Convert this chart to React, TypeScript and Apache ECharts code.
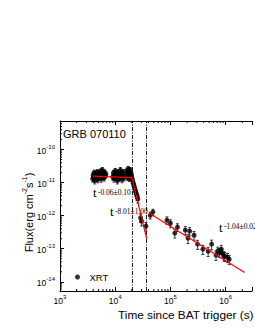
import React, { useEffect, useRef } from 'react';
import * as echarts from 'echarts';

// ---- data (time [s], flux [erg cm^-2 s^-1], 1-sigma error) ----
const plateau1: number[][] = [
  [3900, 1.3e-11, 2.6e-12], [3980, 1.7e-11, 3.2e-12], [4060, 1.45e-11, 3.0e-12],
  [4150, 2.0e-11, 3.8e-12], [4250, 1.15e-11, 2.4e-12], [4350, 1.6e-11, 3.2e-12],
  [4450, 1.85e-11, 3.6e-12], [4550, 1.35e-11, 2.8e-12], [4650, 1.55e-11, 3.0e-12],
  [4750, 2.1e-11, 4.0e-12], [4850, 1.25e-11, 2.6e-12], [4950, 1.7e-11, 3.3e-12],
  [5080, 1.45e-11, 3.0e-12], [5200, 1.9e-11, 3.7e-12], [5320, 1.6e-11, 3.2e-12],
  [5450, 2.2e-11, 4.2e-12], [5560, 1.3e-11, 2.7e-12], [5700, 1.75e-11, 3.4e-12],
  [5850, 2.4e-11, 4.6e-12], [6000, 1.5e-11, 3.0e-12], [6150, 1.9e-11, 3.7e-12],
  [6300, 1.4e-11, 2.9e-12], [6450, 2.05e-11, 4.0e-12], [6600, 1.65e-11, 3.3e-12],
  [6800, 1.8e-11, 3.5e-12],
];
const plateau2: number[][] = [
  [9000, 1.5e-11, 3.0e-12], [9250, 1.95e-11, 3.8e-12], [9500, 1.3e-11, 2.7e-12],
  [9750, 1.7e-11, 3.3e-12], [10000, 2.25e-11, 4.3e-12], [10300, 1.45e-11, 2.9e-12],
  [10600, 1.8e-11, 3.5e-12], [10900, 1.15e-11, 2.4e-12], [11200, 2.05e-11, 4.0e-12],
  [11500, 1.6e-11, 3.2e-12], [11800, 1.35e-11, 2.8e-12], [12100, 1.75e-11, 3.4e-12],
  [12400, 2.4e-11, 4.6e-12], [12700, 1.5e-11, 3.0e-12], [13000, 1.9e-11, 3.7e-12],
  [13300, 1.25e-11, 2.6e-12], [13700, 1.65e-11, 3.3e-12], [14100, 2.1e-11, 4.0e-12],
  [14400, 1.4e-11, 2.8e-12],
];
const plateau3: number[][] = [
  [16000, 1.75e-11, 3.4e-12], [16300, 2.3e-11, 4.4e-12], [16600, 1.45e-11, 2.9e-12],
  [16900, 1.95e-11, 3.8e-12], [17200, 2.6e-11, 5.0e-12], [17500, 1.6e-11, 3.2e-12],
  [17800, 2.1e-11, 4.0e-12], [18100, 1.35e-11, 2.7e-12], [18400, 1.85e-11, 3.6e-12],
  [18700, 2.4e-11, 4.6e-12], [19000, 1.5e-11, 3.0e-12], [19300, 2.0e-11, 3.9e-12],
  [19700, 1.7e-11, 3.3e-12], [20100, 1.4e-11, 2.8e-12],
];
const descent: number[][] = [
  [20600, 1.2e-11, 2.4e-12], [21000, 1.0e-11, 2.1e-12], [21500, 9.0e-12, 1.9e-12],
  [22000, 7.8e-12, 1.7e-12], [22600, 6.6e-12, 1.5e-12], [23200, 5.8e-12, 1.3e-12],
  [23800, 5.0e-12, 1.1e-12], [24400, 4.3e-12, 1.0e-12], [25000, 3.8e-12, 9e-13],
  [25700, 3.2e-12, 8e-13], [28800, 8.5e-13, 2.2e-13], [30000, 6.8e-13, 1.9e-13],
  [36000, 4.8e-13, 1.4e-13],
];
const tail: number[][] = [
  [43100, 1.03e-12, 2.4e-13], [48200, 1.28e-12, 2.8e-13], [86500, 7.3e-13, 1.9e-13],
  [100000, 5.9e-13, 1.6e-13], [120000, 2.95e-13, 8.5e-14], [134000, 4.5e-13, 1.2e-13],
  [186000, 3.64e-13, 1.0e-13], [208000, 2.08e-13, 6.5e-14], [223000, 3.4e-13, 9.5e-14],
  [268000, 2.56e-13, 7.5e-14], [310000, 1.37e-13, 4.2e-14], [386000, 9.7e-14, 3.0e-14],
  [482000, 8.4e-14, 2.6e-14], [557000, 1.37e-13, 4.5e-14], [669000, 6.4e-14, 2.0e-14],
  [720000, 8.6e-14, 2.6e-14], [774000, 7.8e-14, 2.4e-14], [833000, 9.7e-14, 3.0e-14],
  [865000, 7.3e-14, 2.2e-14], [930000, 6.2e-14, 1.9e-14], [964000, 5.9e-14, 1.8e-14],
  [1080000, 5.5e-14, 1.7e-14], [1160000, 4.8e-14, 1.5e-14],
];

// broken power-law fit
const fitEarly: number[][] = [[3900, 1.57e-11], [20000, 1.42e-11], [37200, 2.0e-13]];
const fitLate: number[][] = [[41600, 1.19e-12], [2200000, 1.9e-14]];
const breakTimes = [20000, 37200];

const fitLabels = [
  { base: 't', sup: '-0.06±0.10' },
  { base: 't', sup: '-8.01±1.00' },
  { base: 't', sup: '-1.04±0.02' },
];

const X_MIN = 1000;
const X_MAX = 3e6;
const Y_MIN = 5.26e-15;
const Y_MAX = 7.31e-10;

const allPoints = [...plateau1, ...plateau2, ...plateau3, ...descent, ...tail];

const xMinorTicks: number[] = [];
for (let e = 3; e <= 6; e++) for (let m = 2; m <= 9; m++) { const v = m * Math.pow(10, e); if (v < X_MAX) xMinorTicks.push(v); }
const yMinorTicks: number[] = [];
for (let e = -15; e <= -10; e++) for (let m = 2; m <= 9; m++) { const v = m * Math.pow(10, e); if (v > Y_MIN && v < Y_MAX) yMinorTicks.push(v); }

const SANS = 'Liberation Sans';
const SERIF = 'Liberation Serif';

const decadeFmt = (v: number) => {
  const l = Math.log10(v);
  if (Math.abs(l - Math.round(l)) > 1e-6) return '';
  return '{b|10}{s|' + Math.round(l) + '}';
};
const labelRich = {
  b: { fontSize: 8.5, fontFamily: SANS, color: '#000', lineHeight: 11, verticalAlign: 'bottom' },
  s: { fontSize: 6, fontFamily: SANS, color: '#000', lineHeight: 11, verticalAlign: 'top' },
};

const axisLine = { show: true, lineStyle: { color: '#000', width: 1 } };
const axisTick = { show: true, inside: true, length: 4, lineStyle: { color: '#000', width: 1 } };

export default function App() {
  const ref = useRef<HTMLDivElement>(null);
  useEffect(() => {
    const chart = echarts.init(ref.current!, undefined, { renderer: 'svg' });
    const option: any = {
      animation: false,
      backgroundColor: '#fff',
      grid: { left: 60, top: 121, width: 220, height: 170 },
      xAxis: [
        {
          type: 'log', min: X_MIN, max: X_MAX, position: 'bottom',
          axisLine, axisTick,
          axisLabel: { formatter: decadeFmt, rich: labelRich, margin: 3 },
          splitLine: { show: false },
        },
        {
          type: 'log', min: X_MIN, max: X_MAX, position: 'top',
          axisLine, axisTick, axisLabel: { show: false }, splitLine: { show: false },
        },
      ],
      yAxis: {
        type: 'log', min: Y_MIN, max: Y_MAX,
        axisLine, axisTick,
        axisLabel: { formatter: decadeFmt, rich: labelRich, margin: 5 },
        splitLine: { show: false },
      },
      legend: {
        data: ['XRT'], left: 70, top: 267, icon: 'circle', itemWidth: 14, itemHeight: 5,
        selectedMode: false,
        textStyle: { fontSize: 9.5, fontFamily: SANS, color: '#000' },
      },
      series: [
        {
          type: 'custom', name: 'xminor', data: xMinorTicks.map((t) => [t, 1e-12]), z: 1, silent: true,
          renderItem: (params: any, api: any) => {
            const cs = params.coordSys;
            const x = api.coord([api.value(0), api.value(1)])[0];
            const st = { stroke: '#000', lineWidth: 1 };
            return {
              type: 'group', children: [
                { type: 'line', shape: { x1: x, y1: cs.y + cs.height, x2: x, y2: cs.y + cs.height - 2 }, style: st },
                { type: 'line', shape: { x1: x, y1: cs.y, x2: x, y2: cs.y + 2 }, style: st },
              ],
            };
          },
        },
        {
          type: 'custom', name: 'yminor', data: yMinorTicks.map((f) => [10000, f]), z: 1, silent: true,
          renderItem: (params: any, api: any) => {
            const cs = params.coordSys;
            const y = api.coord([api.value(0), api.value(1)])[1];
            return { type: 'line', shape: { x1: cs.x, y1: y, x2: cs.x + 2, y2: y }, style: { stroke: '#000', lineWidth: 1 } };
          },
        },
        {
          type: 'custom', name: 'err', data: allPoints, z: 2, silent: true,
          renderItem: (params: any, api: any) => {
            const t = api.value(0), f = api.value(1), e = api.value(2);
            const top = api.coord([t, f + e]);
            const bot = api.coord([t, f - e]);
            const cw = 1.5;
            const st = { stroke: '#111', lineWidth: 0.8 };
            return {
              type: 'group', children: [
                { type: 'line', shape: { x1: top[0], y1: top[1], x2: bot[0], y2: bot[1] }, style: st },
                { type: 'line', shape: { x1: top[0] - cw, y1: top[1], x2: top[0] + cw, y2: top[1] }, style: st },
                { type: 'line', shape: { x1: bot[0] - cw, y1: bot[1], x2: bot[0] + cw, y2: bot[1] }, style: st },
              ],
            };
          },
        },
        {
          name: 'XRT', type: 'scatter', data: allPoints.map((p) => [p[0], p[1]]),
          symbol: 'circle', symbolSize: 5, itemStyle: { color: '#000' }, z: 3,
        },
        {
          type: 'line', name: 'fit1', data: fitEarly, symbol: 'none', z: 5, silent: true,
          lineStyle: { color: '#ff0000', width: 1.2 },
          markLine: {
            silent: true, symbol: ['none', 'none'], label: { show: false },
            lineStyle: { color: '#000', width: 0.9, type: [4, 1.5, 1, 1.5] },
            data: breakTimes.map((t) => ({ xAxis: t })),
          },
        },
        {
          type: 'line', name: 'fit2', data: fitLate, symbol: 'none', z: 5, silent: true,
          lineStyle: { color: '#ff0000', width: 1.2 },
        },
      ],
      graphic: [
        { type: 'text', x: 63, y: 133.5, style: { text: 'GRB 070110', font: `11px "${SANS}"`, fill: '#000', align: 'left', verticalAlign: 'middle' } },
        {
          type: 'text', x: 27.5, y: 212.5, rotation: Math.PI / 2,
          style: {
            text: '{n|Flux(erg cm}{s|-2}{n|s}{s|-1}{n|)}',
            rich: {
              n: { fontSize: 11, fontFamily: SANS, fill: '#000', lineHeight: 14, verticalAlign: 'bottom' },
              s: { fontSize: 7, fontFamily: SANS, fill: '#000', lineHeight: 14, verticalAlign: 'top' },
            },
            align: 'center', verticalAlign: 'middle', fill: '#000',
          },
        },
        { type: 'text', x: 118, y: 315, style: { text: 'Time since BAT trigger (s)', font: `11.8px "${SANS}"`, fill: '#000', align: 'left', verticalAlign: 'middle' } },
        { type: 'text', x: 93, y: 192.5, style: { text: fitLabels[0].base, font: `13px "${SERIF}"`, fill: '#000', align: 'left', verticalAlign: 'middle' } },
        { type: 'text', x: 98, y: 192, style: { text: fitLabels[0].sup, font: `7.5px "${SERIF}"`, fill: '#000', align: 'left', verticalAlign: 'middle' } },
        { type: 'text', x: 110, y: 211.5, style: { text: fitLabels[1].base, font: `13px "${SERIF}"`, fill: '#000', align: 'left', verticalAlign: 'middle' } },
        { type: 'text', x: 115, y: 211.5, style: { text: fitLabels[1].sup, font: `7.5px "${SERIF}"`, fill: '#000', align: 'left', verticalAlign: 'middle' } },
        { type: 'text', x: 219, y: 227.5, style: { text: fitLabels[2].base, font: `13px "${SERIF}"`, fill: '#000', align: 'left', verticalAlign: 'middle' } },
        { type: 'text', x: 224, y: 226, style: { text: fitLabels[2].sup, font: `7.5px "${SERIF}"`, fill: '#000', align: 'left', verticalAlign: 'middle' } },
      ],
    };
    chart.setOption(option);
    return () => chart.dispose();
  }, []);
  return (
    <div
      ref={ref}
      style={{ position: 'fixed', left: 0, top: 0, width: 255, height: 330, background: '#fff' }}
    />
  );
}
